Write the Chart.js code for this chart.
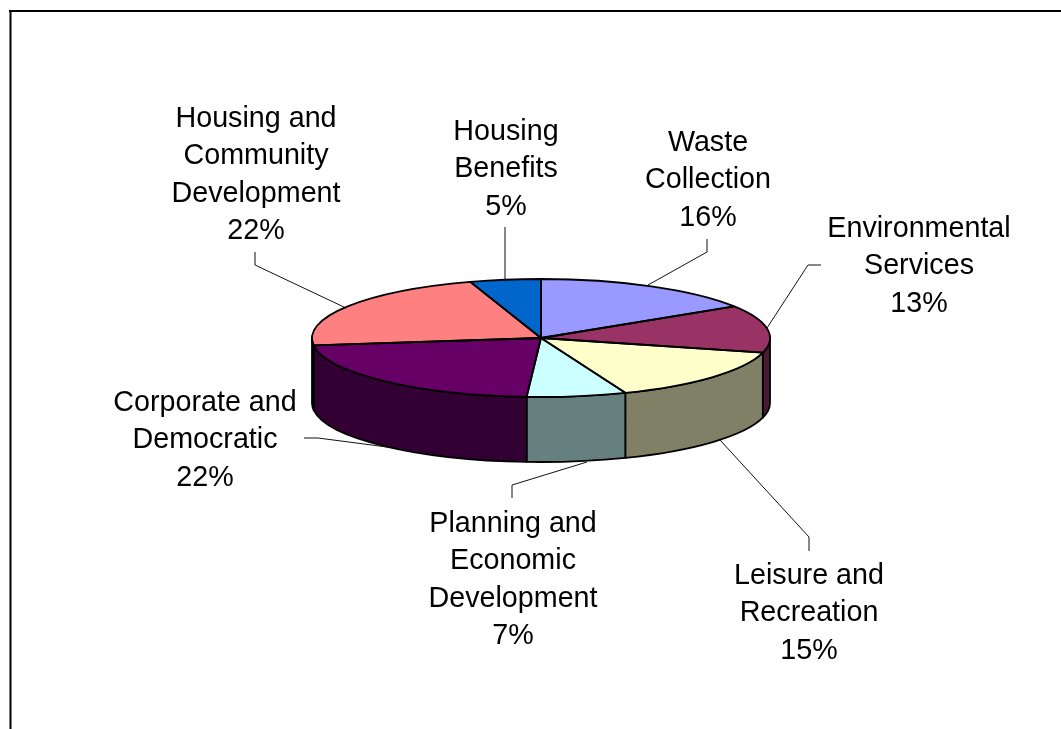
<!DOCTYPE html>
<html>
<head>
<meta charset="utf-8">
<title>Budget by service</title>
<script src="https://cdn.jsdelivr.net/npm/chart.js@4/dist/chart.umd.min.js"></script>
<style>
  html, body { margin: 0; padding: 0; background: #fff; overflow: hidden; }
  canvas { display: block; }
</style>
</head>
<body>
<canvas id="pie_chart" width="1061" height="729"></canvas>
<script>
var categories = [
  "Waste Collection",
  "Environmental Services",
  "Leisure and Recreation",
  "Planning and Economic Development",
  "Corporate and Democratic",
  "Housing and Community Development",
  "Housing Benefits"
];
var shares = [16, 13, 15, 7, 22, 22, 5];

var labelLines = [
  ["Waste", "Collection"],
  ["Environmental", "Services"],
  ["Leisure and", "Recreation"],
  ["Planning and", "Economic", "Development"],
  ["Corporate and", "Democratic"],
  ["Housing and", "Community", "Development"],
  ["Housing", "Benefits"]
];

var topColors = ["#9999FF", "#993366", "#FFFFCC", "#CCFFFF", "#660066", "#FF8080", "#0066CC"];
var wallColors = ["#4D4D80", "#4D1A33", "#808066", "#668080", "#330033", "#804040", "#003366"];

// where each label's first line sits (centre x, baseline y)
var labelAnchors = [[708, 151], [919, 237], [809, 584], [513, 532], [205, 411], [256, 127], [506, 140]];
var labelLeading = 37.4;

// elbow lines from label to slice rim
var leaders = [
  [[707, 239], [707, 252], [648, 285]],
  [[821, 265], [808, 265], [767, 328]],
  [[809, 551], [809, 537], [720, 440]],
  [[512, 498], [512, 485], [587, 462]],
  [[304, 438], [318, 438], [387, 447]],
  [[255, 252], [255, 265], [346, 308]],
  [[505, 227], [505, 279]]
];

var tilt = 59 / 229;   // ellipse height over width of the top face
var depth = 65;        // wall height in px

function frontRange(arc) {
  var from = Math.max(arc.startAngle, 0);
  var to = Math.min(arc.endAngle, Math.PI);
  return from < to ? [from, to] : null;
}

var tiltedPie = {
  id: "tiltedPie",
  beforeDatasetDraw: function(chart) {
    var ctx = chart.ctx;
    var arcs = chart.getDatasetMeta(0).data;

    // outer walls, only the part of each slice facing the viewer
    ctx.save();
    ctx.lineWidth = 1.8;
    ctx.strokeStyle = "#000";
    ctx.lineJoin = "round";
    arcs.forEach(function(arc, i) {
      var range = frontRange(arc);
      if (!range) return;
      var r = arc.outerRadius;
      ctx.beginPath();
      ctx.ellipse(arc.x, arc.y, r, r * tilt, 0, range[0], range[1]);
      ctx.ellipse(arc.x, arc.y + depth, r, r * tilt, 0, range[1], range[0], true);
      ctx.closePath();
      ctx.fillStyle = wallColors[i];
      ctx.fill();
      ctx.stroke();
    });
    ctx.restore();

    // squash the circle the library draws into the top face
    var first = arcs[0];
    ctx.save();
    ctx.translate(first.x, first.y);
    ctx.scale(1, tilt);
    ctx.translate(-first.x, -first.y);
  },
  afterDatasetDraw: function(chart) {
    var ctx = chart.ctx;
    ctx.restore();

    // outlines go on after the transform is gone so the pen stays even
    ctx.save();
    ctx.lineWidth = 1.8;
    ctx.strokeStyle = "#000";
    ctx.lineJoin = "round";
    chart.getDatasetMeta(0).data.forEach(function(arc) {
      var r = arc.outerRadius;
      ctx.beginPath();
      ctx.moveTo(arc.x, arc.y);
      ctx.ellipse(arc.x, arc.y, r, r * tilt, 0, arc.startAngle, arc.endAngle);
      ctx.closePath();
      ctx.stroke();
    });
    ctx.restore();
  },
  afterDraw: function(chart) {
    var ctx = chart.ctx;
    ctx.save();

    // frame, top and left only
    ctx.fillStyle = "#000";
    ctx.fillRect(9, 10, chart.width - 9, 2);
    ctx.fillRect(9.5, 10, 2, chart.height - 10);

    ctx.strokeStyle = "#111";
    ctx.lineWidth = 1;
    leaders.forEach(function(points) {
      ctx.beginPath();
      points.forEach(function(p, i) {
        if (i == 0) ctx.moveTo(p[0], p[1]);
        else ctx.lineTo(p[0], p[1]);
      });
      ctx.stroke();
    });

    ctx.fillStyle = "#000";
    ctx.font = "28.7px 'Liberation Sans', Arial, sans-serif";
    ctx.textAlign = "center";
    ctx.textBaseline = "alphabetic";
    labelLines.forEach(function(lines, i) {
      var rows = lines.concat(shares[i] + "%");
      rows.forEach(function(row, n) {
        ctx.fillText(row, labelAnchors[i][0], labelAnchors[i][1] + n * labelLeading);
      });
    });
    ctx.restore();
  }
};

var ctx = document.getElementById("pie_chart");

var pieChart = new Chart(ctx, {
  type: "pie",
  data: {
    labels: categories,
    datasets: [{
      data: shares,
      backgroundColor: topColors,
      borderWidth: 0,
      hoverOffset: 0
    }]
  },
  options: {
    responsive: false,
    animation: false,
    events: [],
    layout: { padding: { left: 312, right: 291, top: 109, bottom: 162 } },
    plugins: {
      legend: { display: false },
      tooltip: { enabled: false }
    }
  },
  plugins: [tiltedPie]
});
</script>
</body>
</html>
